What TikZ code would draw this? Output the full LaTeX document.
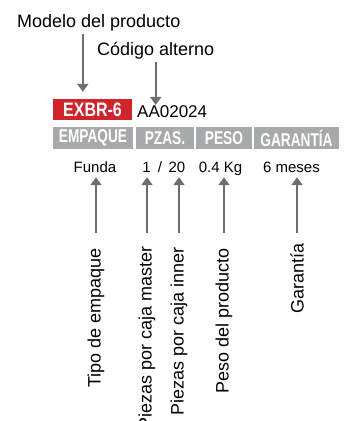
\documentclass[tikz,border=0pt]{standalone}
\usepackage{fontspec}
\setmainfont{Liberation Sans}
\newfontfamily\narrowfont[FakeStretch=0.74]{Liberation Sans}
\newfontfamily\modelfont[FakeStretch=0.82]{Liberation Sans}
\usetikzlibrary{arrows.meta, positioning, calc}
\definecolor{modelred}{RGB}{209,35,42}
\definecolor{headgray}{RGB}{167,169,172}
\definecolor{arrowgray}{RGB}{110,110,113}
\tikzset{
    callout/.style={font=\fontsize{18}{20}\selectfont, inner sep=0pt},
    sidelabel/.style={callout, rotate=90, anchor=east},
    header/.style={rectangle, fill=headgray, text=white, minimum height=22pt, inner sep=0pt, font=\narrowfont\bfseries\fontsize{18.5}{20}\selectfont},
    value/.style={font=\fontsize{15}{17}\selectfont, inner sep=0pt, text depth=0pt, anchor=base},
    arrow/.style={-{Triangle[length=8pt, width=11pt]}, line width=2.2pt, arrowgray},
}
\begin{document}
\begin{tikzpicture}[x=1pt, y=-1pt]
    \useasboundingbox (0,0) rectangle (346,421);
    \node[callout, anchor=base west] (modelo) at (17,27) {Modelo del producto};
    \node[callout, anchor=base west] (codigo) at (97,55) {Código alterno};
    \node[rectangle, fill=modelred, text=white, minimum width=79pt, minimum height=21pt, inner sep=0pt, font=\modelfont\bfseries\fontsize{19.5}{20}\selectfont] (clave) at (92.5,109.5) {EXBR-6};
    \node[callout, anchor=base west, font=\fontsize{17}{19}\selectfont] (aa) at (137,117) {AA02024};
    \draw[arrow, shorten <=3pt, shorten >=7pt] ([xshift=30pt]clave.north west |- modelo.south) -- ([xshift=30pt]clave.north west);
    \draw[arrow, shorten <=3pt] (codigo.south) -- (codigo.south |- aa.north);
    % encabezados
    \node[header, minimum width=80pt] (empaque) at (93,138) {EMPAQUE};
    \node[header, minimum width=58pt] (pzas) at (165,138) {PZAS.};
    \node[header, minimum width=56pt] (peso) at (224,138) {PESO};
    \node[header, minimum width=85pt] (garantia) at (296.5,138) {GARANTÍA};
    % valores
    \node[value] (funda) at (95,172) {Funda};
    \node[value] (uno) at (146.5,172) {1};
    \node[value] (barra) at (160,172) {/};
    \node[value] (veinte) at (177,172) {20};
    \node[value] (kilos) at (220.5,172) {0.4 Kg};
    \node[value] (meses) at (291.5,172) {6 meses};
    % descripciones
    \node[sidelabel] (tipo) at (96,248) {Tipo de empaque};
    \node[sidelabel] (master) at (147,246) {Piezas por caja master};
    \node[sidelabel] (inner) at (179,247) {Piezas por caja inner};
    \node[sidelabel] (pesoprod) at (224,248) {Peso del producto};
    \node[sidelabel] (meses2) at (297,243) {Garantía};
    \draw[arrow, shorten <=15pt, shorten >=5pt] (tipo.east) -- (tipo.east |- funda.south);
    \draw[arrow, shorten <=13pt, shorten >=5pt] (master.east) -- (master.east |- uno.south);
    \draw[arrow, shorten <=14pt, shorten >=5pt] (inner.east) -- (inner.east |- veinte.south);
    \draw[arrow, shorten <=15pt, shorten >=5pt] (pesoprod.east) -- (pesoprod.east |- kilos.south);
    \draw[arrow, shorten <=10pt, shorten >=5pt] (meses2.east) -- (meses2.east |- meses.south);
\end{tikzpicture}
\end{document}
